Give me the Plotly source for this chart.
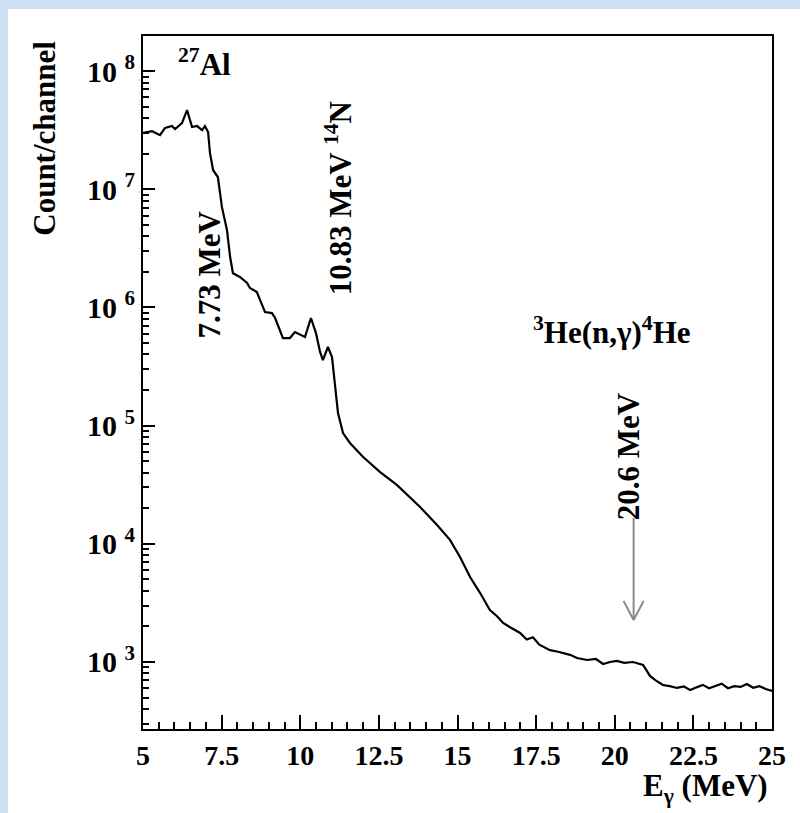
import math
import plotly.graph_objects as go

# Spectrum (E in MeV, counts/channel)
energy = [5.00, 5.29, 5.54, 5.70, 5.92, 6.02, 6.24, 6.40, 6.56, 6.72, 6.88, 6.97, 7.07,
          7.13, 7.23, 7.38, 7.51, 7.67, 7.77, 7.86, 8.08, 8.31, 8.40, 8.62, 8.88, 9.10,
          9.20, 9.45, 9.67, 9.83, 10.15, 10.34, 10.50, 10.63, 10.72, 10.88, 11.01, 11.10,
          11.20, 11.36, 11.58, 12.00, 12.54, 13.08, 13.59, 13.81, 14.35, 14.76, 15.08,
          15.40, 15.72, 16.03, 16.25, 16.45, 16.70, 16.99, 17.20, 17.40, 17.60, 17.94,
          18.20, 18.58, 18.80, 19.12, 19.40, 19.63, 19.85, 20.07, 20.30, 20.58, 20.90,
          21.12, 21.30, 21.53, 21.75, 21.98, 22.20, 22.40, 22.60, 22.80, 23.00, 23.20,
          23.40, 23.60, 23.80, 24.00, 24.20, 24.40, 24.60, 24.80, 25.00]
counts = [3.0e7, 3.1e7, 2.87e7, 3.3e7, 3.43e7, 3.23e7, 3.63e7, 4.68e7, 3.36e7, 3.43e7,
          3.17e7, 3.43e7, 3.05e7, 2.02e7, 1.45e7, 1.27e7, 7.06e6, 4.52e6, 2.67e6, 1.95e6,
          1.81e6, 1.61e6, 1.46e6, 1.35e6, 9.14e5, 8.97e5, 8.14e5, 5.51e5, 5.51e5, 6.19e5,
          5.62e5, 8.14e5, 6.06e5, 4.20e5, 3.59e5, 4.63e5, 3.80e5, 2.12e5, 1.28e5, 8.65e4,
          7.13e4, 5.42e4, 4.05e4, 3.14e4, 2.35e4, 2.05e4, 1.44e4, 1.08e4, 7.73e3, 5.23e3,
          3.83e3, 2.75e3, 2.45e3, 2.14e3, 1.95e3, 1.76e3, 1.55e3, 1.62e3, 1.40e3, 1.26e3,
          1.22e3, 1.15e3, 1.08e3, 1.04e3, 1.06e3, 962, 1000, 1020, 985, 1000, 944,
          762, 700, 639, 625, 603, 620, 578, 610, 640, 600, 630, 655, 600, 625, 615,
          650, 605, 625, 590, 570]

# Arrow marking 20.6 MeV
arrow_e = 20.6
arrow_top = 1.65e4
arrow_tip = 2.27e3

y_major = [1e3, 1e4, 1e5, 1e6, 1e7, 1e8]
y_major_text = ["10\u00a0<sup>3</sup>", "10\u00a0<sup>4</sup>", "10\u00a0<sup>5</sup>",
                "10\u00a0<sup>6</sup>", "10\u00a0<sup>7</sup>", "10\u00a0<sup>8</sup>"]
y_minor = [m * 10 ** k for k in range(2, 9) for m in range(2, 10)]
x_major = [5, 7.5, 10, 12.5, 15, 17.5, 20, 22.5, 25]
x_major_text = ["5", "7.5", "10", "12.5", "15", "17.5", "20", "22.5", "25"]

FONT = "Liberation Serif, Times New Roman, serif"
FS = 31
BLUE = "#cddff2"

fig = go.Figure()
fig.add_trace(go.Scatter(x=energy, y=counts, mode="lines",
                         line=dict(color="black", width=2.2), showlegend=False,
                         hoverinfo="skip"))
# arrow shaft and open head
head_dx = 0.32
head_fac = 1.45
fig.add_trace(go.Scatter(
    x=[arrow_e, arrow_e, None, arrow_e - head_dx, arrow_e, arrow_e + head_dx],
    y=[arrow_top, arrow_tip, None, arrow_tip * head_fac, arrow_tip, arrow_tip * head_fac],
    mode="lines", line=dict(color="#8a8a8a", width=2), showlegend=False, hoverinfo="skip"))


def ann(text, x, y, angle=0, size=FS, xanchor="center"):
    return dict(text=text, x=x, y=math.log10(y), xref="x", yref="y", showarrow=False,
                textangle=angle, xanchor=xanchor, yanchor="middle",
                font=dict(family=FONT, size=size, color="black", weight="bold"))


annotations = [
    ann("<sup>27</sup>Al", 6.97, 1.19e8),
    ann("7.73 MeV", 7.13, 1.9e6, angle=-90),
    ann("10.83 MeV <sup>14</sup>N", 11.2, 8.4e6, angle=-90),
    ann("<sup>3</sup>He(n,\u03b3)<sup>4</sup>He", 19.91, 6.4e5),
    ann("20.6 MeV", 20.42, 5.5e4, angle=-90),
    dict(text="Count/channel", x=-0.156, y=0.853, xref="paper", yref="paper",
         showarrow=False, textangle=-90, xanchor="center", yanchor="middle",
         font=dict(family=FONT, size=FS, color="black", weight="bold")),
    dict(text="E<sub>\u03b3</sub> (MeV)", x=0.997, y=-0.085, xref="paper", yref="paper",
         showarrow=False, xanchor="right", yanchor="middle",
         font=dict(family=FONT, size=FS, color="black", weight="bold")),
]

fig.update_layout(
    width=800, height=813,
    margin=dict(l=143, r=28, t=36, b=84),
    paper_bgcolor=BLUE, plot_bgcolor="white",
    annotations=annotations,
    shapes=[dict(type="rect", xref="paper", yref="paper", x0=-0.2146, x1=1.3,
                 y0=-0.4, y1=1.039, fillcolor="white", line=dict(width=0),
                 layer="below")],
    xaxis=dict(range=[5, 25], showline=True, linecolor="black", linewidth=2,
               mirror=True, showgrid=False, zeroline=False,
               tickmode="array", tickvals=x_major, ticktext=x_major_text,
               ticks="inside", ticklen=14, tickwidth=2, tickcolor="black",
               minor=dict(dtick=0.5, tick0=5, ticks="inside", ticklen=7, tickwidth=2,
                          tickcolor="black", showgrid=False),
               tickfont=dict(family=FONT, size=28, color="black", weight="bold")),
    yaxis=dict(type="log", range=[2.433, 8.297], showline=True, linecolor="black",
               linewidth=2, mirror=True, showgrid=False, zeroline=False,
               tickmode="array", tickvals=y_major, ticktext=y_major_text,
               ticks="inside", ticklen=12, tickwidth=2, tickcolor="black",
               minor=dict(tickmode="array", tickvals=y_minor, ticks="inside", ticklen=6,
                          tickwidth=2, tickcolor="black", showgrid=False),
               tickfont=dict(family=FONT, size=30, color="black", weight="bold")),
)

fig.write_html("out.html",
               config={"displayModeBar": False},
               post_script="document.body.style.margin='0';"
                           "document.body.style.overflow='hidden';"
                           "document.body.style.background='" + BLUE + "';")
